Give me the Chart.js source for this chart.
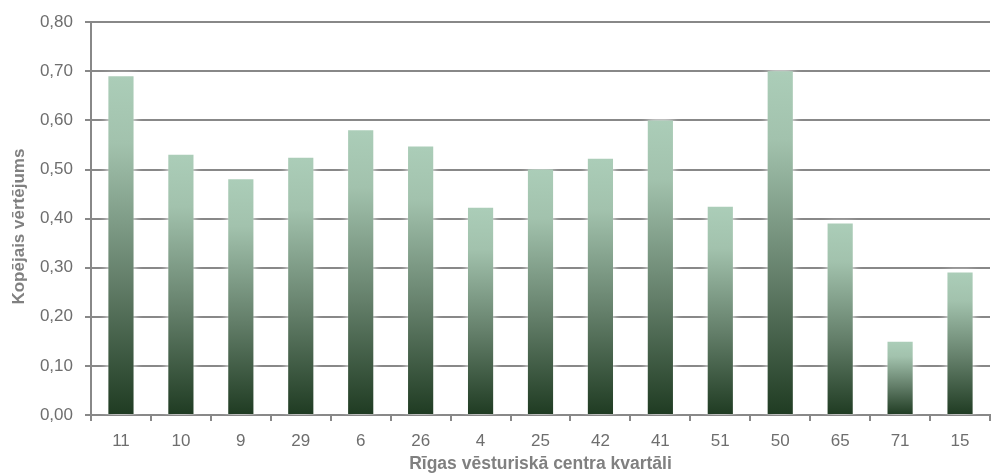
<!DOCTYPE html>
<html>
<head>
<meta charset="utf-8">
<script src="https://cdn.jsdelivr.net/npm/chart.js@4/dist/chart.umd.min.js"></script>
<style>
  html, body { margin: 0; padding: 0; background: #ffffff; }
  #wrap { width: 998px; height: 476px; }
</style>
</head>
<body>
<div id="wrap"><canvas id="c" width="998" height="476"></canvas></div>
<script>
// Kvartālu numuri un to kopējie vērtējumi
const categories = ['11', '10', '9', '29', '6', '26', '4', '25', '42', '41', '51', '50', '65', '71', '15'];
const values = [0.69, 0.53, 0.48, 0.524, 0.58, 0.547, 0.422, 0.50, 0.522, 0.60, 0.424, 0.70, 0.39, 0.149, 0.29];
const yTicks = [0, 0.1, 0.2, 0.3, 0.4, 0.5, 0.6, 0.7, 0.8];
const xTitle = 'Rīgas vēsturiskā centra kvartāli';
const yTitle = 'Kopējais vērtējums';

const FONT = "'Liberation Sans', Arial, sans-serif";
const GRID = '#888888';
const TEXT = '#6e6e6e';
const TITLE = '#808080';

// Each bar gets its own vertical gradient: light sage at the top, dark green at the base
function barGradient(ctx) {
  const chart = ctx.chart;
  const area = chart.chartArea;
  if (!area || ctx.type !== 'data') return '#6f9a7c';
  const y = chart.scales.y;
  const top = y.getPixelForValue(ctx.raw);
  const base = y.getPixelForValue(0);
  const g = chart.ctx.createLinearGradient(0, top, 0, base);
  g.addColorStop(0, '#abcdb8');
  g.addColorStop(0.2, '#a2c2ad');
  g.addColorStop(0.6, '#647f6a');
  g.addColorStop(1, '#1f3b22');
  return g;
}

// Soft white halo behind the bars, so grid lines fade where they meet a bar
const haloPlugin = {
  id: 'halo',
  beforeDatasetsDraw(chart) {
    const c = chart.ctx;
    c.save();
    c.shadowColor = 'rgba(255,255,255,1)';
    c.shadowBlur = 8;
    c.shadowOffsetX = 0;
    c.shadowOffsetY = 0;
  },
  afterDatasetsDraw(chart) {
    chart.ctx.restore();
  }
};

// Vertical axis title, drawn rotated a little below the plot's middle
const yTitlePlugin = {
  id: 'yTitle',
  afterDraw(chart) {
    const c = chart.ctx;
    const area = chart.chartArea;
    c.save();
    c.translate(19, (area.top + area.bottom) / 2 + 8);
    c.rotate(-Math.PI / 2);
    c.fillStyle = TITLE;
    c.font = "bold 17px " + FONT;
    c.textAlign = 'center';
    c.textBaseline = 'middle';
    c.fillText(yTitle, 0, 0);
    c.restore();
  }
};

new Chart(document.getElementById('c'), {
  type: 'bar',
  data: {
    labels: categories,
    datasets: [{
      data: values,
      backgroundColor: barGradient,
      borderWidth: 0,
      categoryPercentage: 1.0,
      barPercentage: 0.42
    }]
  },
  options: {
    responsive: false,
    animation: false,
    devicePixelRatio: 1,
    layout: { padding: { top: 22, right: 8, bottom: 0, left: 0 } },
    plugins: {
      legend: { display: false },
      tooltip: { enabled: false }
    },
    scales: {
      x: {
        afterFit(scale) { scale.height = 61; },
        grid: {
          offset: true,
          drawOnChartArea: false,
          drawTicks: true,
          tickLength: 6,
          color: GRID,
          lineWidth: 2
        },
        border: { color: GRID, width: 2 },
        ticks: {
          color: TEXT,
          font: { family: FONT, size: 17 },
          padding: 10,
          maxRotation: 0
        },
        title: {
          display: true,
          text: xTitle,
          color: TITLE,
          font: { family: FONT, size: 17.5, weight: 'bold' },
          padding: { top: 0, bottom: 1 }
        }
      },
      y: {
        min: 0,
        max: 0.8,
        afterFit(scale) { scale.width = 91; },
        afterBuildTicks(scale) {
          scale.ticks = yTicks.map(v => ({ value: v }));
        },
        grid: {
          color: GRID,
          lineWidth: 2,
          tickLength: 6,
          drawTicks: true
        },
        border: { color: GRID, width: 2 },
        ticks: {
          color: TEXT,
          font: { family: FONT, size: 17 },
          padding: 12,
          callback: v => v.toFixed(2).replace('.', ',')
        },
        title: { display: false }
      }
    }
  },
  plugins: [haloPlugin, yTitlePlugin]
});
</script>
</body>
</html>
